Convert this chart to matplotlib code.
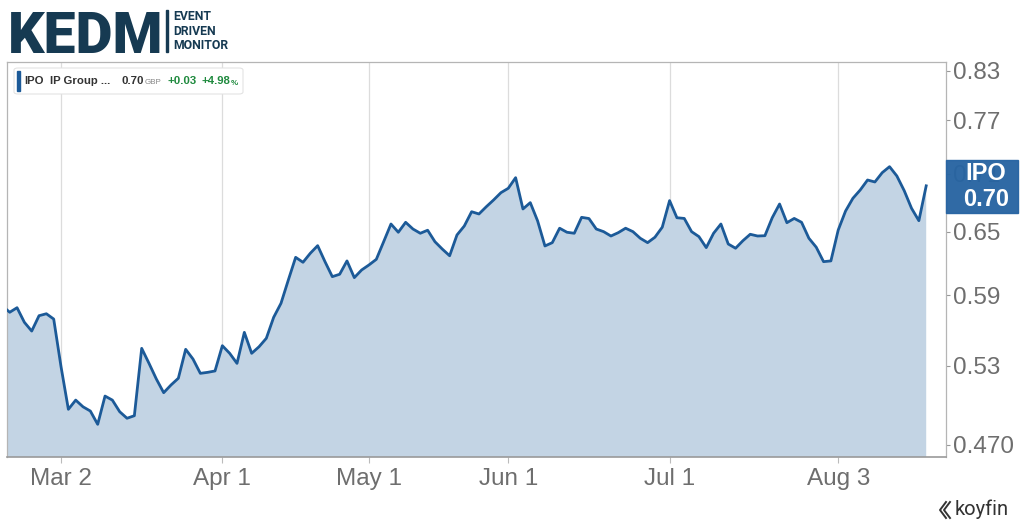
import numpy as np
import pandas as pd
import matplotlib
matplotlib.use("Agg")
import matplotlib.pyplot as plt
from matplotlib.patches import FancyBboxPatch, Rectangle

# ---------------- data ----------------
holidays = ["2020-04-10", "2020-04-13", "2020-05-08", "2020-05-25"]
dates = [d for d in pd.bdate_range("2020-02-19", "2020-08-19")
         if d.strftime("%Y-%m-%d") not in holidays]

prices = [
    0.5806, 0.5751, 0.5791, 0.5664, 0.5589, 0.5721, 0.5738, 0.5692,
    0.5294, 0.4962, 0.5032, 0.4981, 0.4949, 0.4850, 0.5063, 0.5032,
    0.4944, 0.4895, 0.4914, 0.5444, 0.5321, 0.5196, 0.5089, 0.5149,
    0.5202, 0.5436, 0.5356, 0.5241, 0.5249, 0.5260, 0.5466, 0.5403,
    0.5321, 0.5578, 0.5403, 0.5457, 0.5528, 0.5707, 0.5830, 0.6040,
    0.6252, 0.6205, 0.6291, 0.6364, 0.6211, 0.6071, 0.6093, 0.6218,
    0.6062, 0.6133, 0.6180, 0.6233, 0.6402, 0.6577, 0.6495, 0.6594,
    0.6527, 0.6485, 0.6515, 0.6402, 0.6331, 0.6267, 0.6468, 0.6557,
    0.6701, 0.6678, 0.6752, 0.6822, 0.6898, 0.6944, 0.7057, 0.6729,
    0.6794, 0.6608, 0.6361, 0.6393, 0.6535, 0.6495, 0.6485, 0.6644,
    0.6632, 0.6527, 0.6501, 0.6458, 0.6491, 0.6535, 0.6501, 0.6436,
    0.6393, 0.6446, 0.6545, 0.6815, 0.6640, 0.6633, 0.6501, 0.6452,
    0.6345, 0.6485, 0.6577, 0.6380, 0.6339, 0.6412, 0.6475, 0.6458,
    0.6461, 0.6640, 0.6780, 0.6590, 0.6633, 0.6594, 0.6436, 0.6349,
    0.6211, 0.6218, 0.6517, 0.6708, 0.6839, 0.6926, 0.7032, 0.7011,
    0.7111, 0.7176, 0.7075, 0.6919, 0.6736, 0.6610, 0.6970,
]

tick_dates = ["2020-03-02", "2020-04-01", "2020-05-01", "2020-06-01",
              "2020-07-01", "2020-08-03"]
tick_labels = ["Mar 2", "Apr 1", "May 1", "Jun 1", "Jul 1", "Aug 3"]
y_ticks = [0.47, 0.53, 0.59, 0.65, 0.71, 0.77, 0.83]
y_tick_labels = ["0.470", "0.53", "0.59", "0.65", "0.71", "0.77", "0.83"]

ticker = "IPO"
name = "IP Group ..."
last_price = "0.70"
currency = "GBP"
change = "+0.03"
change_pct = "+4.98"

# ---------------- figure ----------------
W, H = 1024, 529
fig = plt.figure(figsize=(W / 100, H / 100), dpi=100)
fig.patch.set_facecolor("white")

def fx(px):
    return px / W

def fy(py):
    return 1 - py / H

ax = fig.add_axes([fx(7), fy(457), fx(946) - fx(7), fy(62) - fy(457)])

date_strs = [d.strftime("%Y-%m-%d") for d in dates]
xs = np.arange(len(prices))
line_color = "#1c5a98"
fill_color = "#c3d4e4"

ax.set_yscale("log")
ax.fill_between(xs, prices, 0.3, color=fill_color, lw=0, zorder=2)
ax.plot(xs, prices, color=line_color, lw=2.0, zorder=3, solid_joinstyle="round")

ax.set_xlim(0.63, 128.7)
ax.set_ylim(0.4615, 0.8414)

tick_pos = [date_strs.index(t) for t in tick_dates]
ax.set_xticks(tick_pos)
ax.set_xticklabels(tick_labels)
ax.xaxis.grid(True, color="#dcdcdc", lw=0.9)
for gl in ax.get_xgridlines():
    gl.set_zorder(2.5)
ax.yaxis.grid(False)

ax.yaxis.tick_right()
ax.set_yticks(y_ticks)
ax.set_yticklabels(y_tick_labels)
ax.yaxis.set_minor_locator(matplotlib.ticker.NullLocator())

tick_color = "#6e6e6e"
ax.tick_params(axis="y", which="major", length=3, width=0.8, color="#999999",
               labelsize=17.5, labelcolor=tick_color, pad=2)
ax.tick_params(axis="x", which="major", length=4, width=0.8, color="#bbbbbb",
               labelsize=17.5, labelcolor=tick_color, pad=4)
for lab in ax.get_xticklabels() + ax.get_yticklabels():
    lab.set_fontfamily("Liberation Sans")

for s in ["left", "right", "top"]:
    ax.spines[s].set_color("#b5b5b5")
    ax.spines[s].set_linewidth(0.9)
ax.spines["bottom"].set_color("#9a9a9a")
ax.spines["bottom"].set_linewidth(1.2)

# ---------------- legend box ----------------
leg = FancyBboxPatch((fx(14), fy(94)), fx(243) - fx(14), fy(68) - fy(94),
                     boxstyle="round,pad=0,rounding_size=0.004",
                     transform=fig.transFigure, facecolor="white",
                     edgecolor="#e3e3e3", lw=0.8, zorder=10)
fig.add_artist(leg)
fig.add_artist(Rectangle((fx(16.5), fy(91)), fx(3), fy(71) - fy(91),
                         transform=fig.transFigure, color=line_color, zorder=11))
ly = fy(81.5)
fam = "Liberation Sans"
fs = 8.2
fig.text(fx(24), ly, ticker, fontsize=fs, color="#333333", weight="bold",
         va="center", family=fam, zorder=12)
fig.text(fx(50), ly, name, fontsize=fs, color="#333333", weight="bold",
         va="center", family=fam, zorder=12)
fig.text(fx(122), ly, last_price, fontsize=fs, color="#333333", weight="bold",
         va="center", family=fam, zorder=12)
fig.text(fx(145), ly - 0.002, currency, fontsize=5.8, color="#888888",
         va="center", family=fam, zorder=12)
fig.text(fx(167), ly, change, fontsize=fs, color="#1f8a3e", weight="bold",
         va="center", family=fam, zorder=12)
fig.text(fx(201), ly, change_pct, fontsize=fs, color="#1f8a3e", weight="bold",
         va="center", family=fam, zorder=12)
fig.text(fx(230.5), ly - 0.003, "%", fontsize=5.8, color="#1f8a3e", weight="bold",
         va="center", family=fam, zorder=12)

# ---------------- last price tag ----------------
tag_color = "#2764a2"
fig.add_artist(Rectangle((fx(946), fy(213)), fx(1018) - fx(946), fy(160) - fy(213),
                         transform=fig.transFigure, color=tag_color, alpha=0.96,
                         zorder=10))
fig.text(fx(986), fy(174), ticker, fontsize=17, color="white", weight="bold",
         ha="center", va="center", family=fam, zorder=11)
fig.text(fx(986), fy(199), last_price, fontsize=17, color="white", weight="bold",
         ha="center", va="center", family=fam, zorder=11)

# ---------------- KEDM logo ----------------
navy = "#163a52"
fig.text(fx(8), fy(53), "KEDM", fontsize=41, color=navy, weight="heavy",
         family="Roboto", va="baseline", ha="left")
fig.add_artist(Rectangle((fx(165.5), fy(52)), fx(2), fy(10) - fy(52),
                         transform=fig.transFigure, color=navy))
for i, word in enumerate(["EVENT", "DRIVEN", "MONITOR"]):
    fig.text(fx(173), fy(17 + 14.5 * i), word, fontsize=8.8, color=navy,
             weight="bold", family="Roboto", va="center", ha="left")

# ---------------- koyfin logo ----------------
for off in (0, 4):
    fig.add_artist(plt.Line2D([fx(946 + off), fx(940 + off), fx(946 + off)],
                              [fy(502), fy(510), fy(518)],
                              transform=fig.transFigure, color="#333333", lw=1.4))
fig.text(fx(955), fy(509), "koyfin", fontsize=14.5, color="#333333",
         family="Roboto", va="center", ha="left")

fig.savefig("out.png", dpi=100, facecolor="white")
